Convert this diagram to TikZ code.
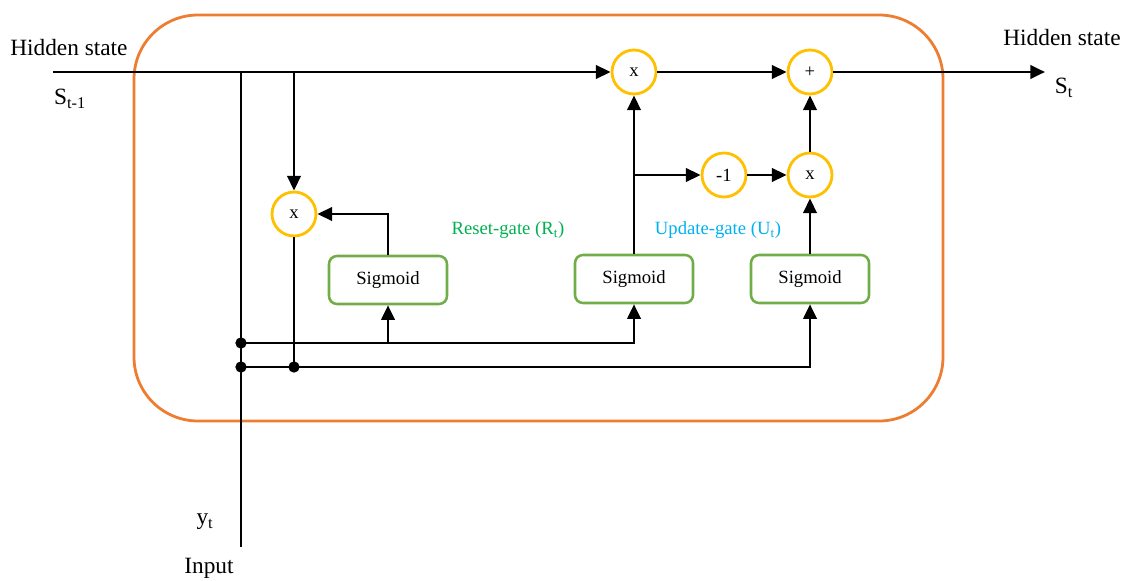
\documentclass[tikz,border=0pt]{standalone}
\usepackage{fontspec}
\setmainfont{Liberation Serif}
\usetikzlibrary{arrows.meta}
\definecolor{gold}{HTML}{FFC000}
\definecolor{sgreen}{HTML}{70AD47}
\definecolor{orng}{HTML}{ED7D31}
\definecolor{rgreen}{HTML}{00B050}
\definecolor{ublue}{HTML}{00B0F0}
\begin{document}
\begin{tikzpicture}[x=0.75pt,y=-0.75pt,
 line/.style={line width=2.1pt, draw=black},
 arr/.style={line, -{Triangle[length=11pt,width=10pt]}},
 op/.style={circle, draw=gold, line width=2.1pt, minimum size=33pt, inner sep=0pt, font=\fontsize{14}{16}\selectfont, fill=white},
 sig/.style={draw=sgreen, line width=1.9pt, rounded corners=6pt, minimum width=88.5pt, minimum height=36pt, font=\fontsize{14}{16}\selectfont},
 lbl/.style={font=\fontsize{17.5}{20}\selectfont, inner sep=0pt},
 gate/.style={font=\fontsize{14}{16}\selectfont, inner sep=0pt},
 jdot/.style={circle, fill=black, inner sep=0pt, minimum size=8.5pt}]
\useasboundingbox (0,0) rectangle (1127,581);
\draw[orng, line width=2.1pt, rounded corners=48pt] (134,15) rectangle (943,421);
% operators
\node[op] (m1) at (294,214) {x};
\node[op] (m2) at (634,72) {x};
\node[op] (pl) at (810,72) {+};
\node[op] (neg) at (724,175) {-1};
\node[op] (m3) at (810,175) {x};
% sigmoid boxes
\node[sig] (s1) at (388,280) {Sigmoid};
\node[sig] (s2) at (634,279) {Sigmoid};
\node[sig] (s3) at (810,279) {Sigmoid};
% coordinates
\coordinate (in) at (53,72);
\coordinate (out) at (1045,72);
\coordinate (yb) at (241,547);
\coordinate (j1) at (241,72);
\coordinate (j2) at (294,72);
\node[jdot] (d1) at (241,343) {};
\node[jdot] (d2) at (241,367) {};
\node[jdot] (d3) at (294,367) {};
\coordinate (br) at (634,175);
\coordinate (b1) at (388,343);
% connectors
\draw[arr] (in) -- (m2);
\draw[arr] (m2) -- (pl);
\draw[arr] (pl) -- (out);
\draw[line] (j1) -- (yb);
\draw[arr] (j2) -- (m1);
\draw[line] (m1) -- (d3.center);
\draw[arr] (d1.center) -| (s2.south);
\draw[arr] (b1) -- (s1.south);
\draw[arr] (d2.center) -| (s3.south);
\draw[arr] (s1.north) |- (m1);
\draw[arr] (s2.north) -- (m2);
\draw[arr] (br) -- (neg);
\draw[arr] (neg) -- (m3);
\draw[arr] (s3.north) -- (m3);
\draw[arr] (m3) -- (pl);
% labels
\node[lbl, anchor=west] (hs1) at (10,48) {Hidden state};
\node[lbl] (st1) at (70,99) {S\textsubscript{t-1}};
\node[lbl] (hs2) at (1062,38) {Hidden state};
\node[lbl] (st) at (1064,88) {S\textsubscript{t}};
\node[lbl] (yt) at (205,522) {y\textsubscript{t}};
\node[lbl] (inp) at (209,568) {Input};
\node[gate, text=rgreen] (rg) at (508,230) {Reset-gate (R\textsubscript{t})};
\node[gate, text=ublue] (ug) at (718,230) {Update-gate (U\textsubscript{t})};
\end{tikzpicture}
\end{document}
